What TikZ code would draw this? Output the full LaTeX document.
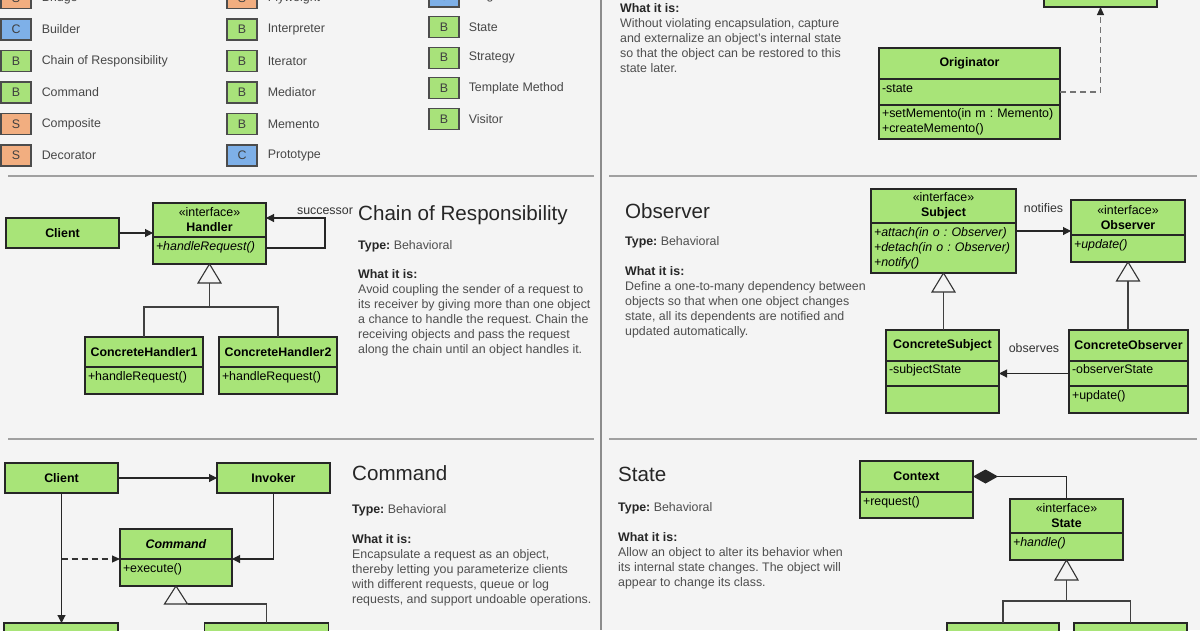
\documentclass[tikz,border=0pt]{standalone}
\usepackage{fontspec}
\setmainfont{Liberation Sans}
\usetikzlibrary{arrows.meta,positioning,shapes}
\definecolor{bgcol}{RGB}{244,244,244}
\definecolor{umlgreen}{RGB}{168,228,120}
\definecolor{patgreen}{RGB}{168,226,122}
\definecolor{patorange}{RGB}{242,174,128}
\definecolor{patblue}{RGB}{126,176,232}
\definecolor{rulegray}{RGB}{160,160,160}
\definecolor{bodygray}{RGB}{78,78,78}
\definecolor{headgray}{RGB}{38,38,38}
\newcommand{\txtsize}{\fontsize{12.4}{15}\selectfont}
\newcommand{\ttlsize}{\fontsize{20.6}{24}\selectfont}
\frenchspacing

\begin{document}
\begin{tikzpicture}[x=1pt,y=-1pt,>={Triangle[length=8pt,width=8pt]}]

  \tikzstyle{pat}=[rectangle,draw=black!70,line width=1.1pt,minimum width=30pt,
                   minimum height=21pt,inner sep=0pt,font=\txtsize,text=black!75]
  \tikzstyle{patname}=[inner sep=0pt,font=\txtsize,text=black!72,anchor=west]
  \tikzstyle{cls}=[rectangle,draw=black!85,line width=1.3pt,fill=umlgreen,
                   inner sep=0pt,outer sep=0pt,font=\txtsize]
  \tikzstyle{cname}=[cls,align=center,font=\txtsize\bfseries]
  \tikzstyle{cmem}=[cls,align=left,inner xsep=3pt,text height=0pt,text depth=0pt]
  \tikzstyle{cmems}=[cls,align=left,inner xsep=3pt]
  \tikzstyle{assoc}=[->,line width=1.1pt,draw=black!85]
  \tikzstyle{dep}=[-{Triangle[length=8pt,width=7pt,color=black!85]},line width=1.1pt,
                   draw=black!80,dash pattern=on 6pt off 4pt]
  \tikzstyle{comp}=[{Diamond[length=25pt,width=14pt]}-,line width=1.1pt,draw=black!85]
  \tikzstyle{gen}=[line width=1.1pt,draw=black!80,fill=bgcol]
  \tikzstyle{tree}=[line width=1.1pt,draw=black!75]
  \tikzstyle{sep}=[line width=2pt,draw=rulegray]
  \tikzstyle{ttl}=[inner sep=0pt,anchor=base west,font=\ttlsize,text=headgray]
  \tikzstyle{tline}=[inner sep=0pt,anchor=base west,font=\txtsize,text=bodygray]
  \tikzstyle{desc}=[inner sep=0pt,anchor=north west,align=left,font=\txtsize,text=bodygray]
  \tikzstyle{lbl}=[inner sep=0pt,font=\txtsize,text=black!80]

  \clip (0,0) rectangle (1200,630);
  \fill [bgcol] (0,0) rectangle (1200,630);

  % panel rules
  \draw [sep,line width=1.5pt,draw=black!45] (601,0) -- (601,630);
  \draw [sep] (8,176) -- (594,176);
  \draw [sep] (609,176) -- (1197,176);
  \draw [sep] (8,439) -- (594,439);
  \draw [sep] (609,439) -- (1197,439);

  % pattern legend
  \node [pat,fill=patorange] (brg) at (16,-2)    {S};
  \node [patname,right=10pt of brg] (brg-t) {Bridge};
  \node [pat,fill=patblue]   (bld) at (16,29.5)  {C};
  \node [patname,right=10pt of bld] (bld-t) {Builder};
  \node [pat,fill=patgreen]  (chn) at (16,61)    {B};
  \node [patname,right=10pt of chn] (chn-t) {Chain of Responsibility};
  \node [pat,fill=patgreen]  (cmn) at (16,92.5)  {B};
  \node [patname,right=10pt of cmn] (cmn-t) {Command};
  \node [pat,fill=patorange] (cps) at (16,124)   {S};
  \node [patname,right=10pt of cps] (cps-t) {Composite};
  \node [pat,fill=patorange] (dec) at (16,155.5) {S};
  \node [patname,right=10pt of dec] (dec-t) {Decorator};

  \node [pat,fill=patorange] (fly) at (242,-2)    {S};
  \node [patname,right=10pt of fly] (fly-t) {Flyweight};
  \node [pat,fill=patgreen]  (itp) at (242,29.5)  {B};
  \node [patname,right=10pt of itp] (itp-t) {Interpreter};
  \node [pat,fill=patgreen]  (itr) at (242,61)    {B};
  \node [patname,right=10pt of itr] (itr-t) {Iterator};
  \node [pat,fill=patgreen]  (med) at (242,92.5)  {B};
  \node [patname,right=10pt of med] (med-t) {Mediator};
  \node [pat,fill=patgreen]  (mmt) at (242,124)   {B};
  \node [patname,right=10pt of mmt] (mmt-t) {Memento};
  \node [pat,fill=patblue]   (prt) at (242,155.5) {C};
  \node [patname,right=10pt of prt] (prt-t) {Prototype};

  \node [pat,fill=patblue]   (sgl) at (444,-3.5)  {C};
  \node [patname,right=9pt of sgl] (sgl-t) {Singleton};
  \node [pat,fill=patgreen]  (stt) at (444,27)    {B};
  \node [patname,right=9pt of stt] (stt-t) {State};
  \node [pat,fill=patgreen]  (stg) at (444,57.7)  {B};
  \node [patname,right=9pt of stg] (stg-t) {Strategy};
  \node [pat,fill=patgreen]  (tpl) at (444,88.3)  {B};
  \node [patname,right=9pt of tpl] (tpl-t) {Template Method};
  \node [pat,fill=patgreen]  (vis) at (444,119)   {B};
  \node [patname,right=9pt of vis] (vis-t) {Visitor};

  % Memento
  \node [desc] (mm-tx) at (620,3.6) {\textcolor{headgray}{\textbf{What it is:}}\\
    Without violating encapsulation, capture\\and externalize an object's internal state\\
    so that the object can be restored to this\\state later.};
  \node [cls,minimum width=113pt,minimum height=30pt] (mem) at (1100.5,-8) {};
  \node [cname,minimum width=181pt,minimum height=31pt] (org) at (969.5,63.5) {Originator};
  \node [cmem,below=0pt of org,text width=175pt,minimum height=26pt] (org-at) {-state};
  \node [cmems,below=0pt of org-at,text width=175pt,minimum height=34pt] (org-op)
    {+setMemento(in m : Memento)\\+createMemento()};
  \draw [dep,draw=black!55] (org-at.east) -| (mem.south);

  % Chain of Responsibility
  \node [ttl]   (cr-t)  at (358,220.5) {Chain of Responsibility};
  \node [tline] (cr-ty) at (358,249)   {\textcolor{headgray}{\textbf{Type:}} Behavioral};
  \node [desc]  (cr-tx) at (358,269.6) {\textcolor{headgray}{\textbf{What it is:}}\\
    Avoid coupling the sender of a request to\\its receiver by giving more than one object\\
    a chance to handle the request. Chain the\\receiving objects and pass the request\\
    along the chain until an object handles it.};
  \node [cname,minimum width=113pt,minimum height=30pt] (cr-cl) at (62.5,233) {Client};
  \node [cname,minimum width=113pt,minimum height=34pt] (hdl) at (209.5,220)
    {{\mdseries«interface»}\\Handler};
  \node [cmem,below=0pt of hdl,text width=107pt,minimum height=27pt] (hdl-op) {\textit{+handleRequest()}};
  \draw [assoc] (cr-cl) -- (cr-cl -| hdl.west);
  \draw [assoc] ([yshift=2.5pt]hdl-op.east) -- ++(59,0)
    |- node [lbl,pos=0.5,above=3pt] (succ) {successor} ([yshift=2pt]hdl.east);
  \coordinate (hdl-b) at ([yshift=-19pt]hdl-op.south);
  \draw [gen] (hdl-op.south) -- ([xshift=-11.5pt]hdl-b) -- ([xshift=11.5pt]hdl-b) -- cycle;
  \node [cname,minimum width=118pt,minimum height=30pt] (ch1) at (144,352) {ConcreteHandler1};
  \node [cmem,below=0pt of ch1,text width=112pt,minimum height=27pt] (ch1-op) {+handleRequest()};
  \node [cname,minimum width=118pt,minimum height=30pt] (ch2) at (278,352) {ConcreteHandler2};
  \node [cmem,below=0pt of ch2,text width=112pt,minimum height=27pt] (ch2-op) {+handleRequest()};
  \draw [tree] (hdl-b) -- ++(0,24) -| (ch1.north);
  \draw [tree] (hdl-b) -- ++(0,24) -| (ch2.north);

  % Observer
  \node [ttl]   (ob-t)  at (625,218.5) {Observer};
  \node [tline] (ob-ty) at (625,245.5) {\textcolor{headgray}{\textbf{Type:}} Behavioral};
  \node [desc]  (ob-tx) at (625,266.6) {\textcolor{headgray}{\textbf{What it is:}}\\
    Define a one-to-many dependency between\\objects so that when one object changes\\
    state, all its dependents are notified and\\updated automatically.};
  \node [cname,minimum width=145pt,minimum height=34pt] (sub) at (943.5,206)
    {{\mdseries«interface»}\\Subject};
  \node [cmems,below=0pt of sub,text width=139pt,minimum height=50pt,font=\txtsize\itshape] (sub-op)
    {+attach(in o : Observer)\\+detach(in o : Observer)\\+notify()};
  \node [cname,minimum width=114pt,minimum height=35pt] (obs) at (1128,217.5)
    {{\mdseries«interface»}\\Observer};
  \node [cmem,below=0pt of obs,text width=108pt,minimum height=27pt] (obs-op) {\textit{+update()}};
  \coordinate (ntf-a) at ([yshift=17pt]sub-op.east);
  \draw [assoc] (ntf-a) -- node [lbl,above=18pt] (ntf) {notifies} (ntf-a -| obs.west);
  \node [cname,minimum width=113pt,minimum height=31pt] (csub) at (942.5,345.5) {ConcreteSubject};
  \node [cmem,below=0pt of csub,text width=107pt,minimum height=25pt] (csub-at) {-subjectState};
  \node [cmem,below=0pt of csub-at,text width=107pt,minimum height=27pt] (csub-op) {};
  \node [cname,minimum width=119pt,minimum height=31pt] (cobs) at (1128.5,345.5) {ConcreteObserver};
  \node [cmem,below=0pt of cobs,text width=113pt,minimum height=25pt] (cobs-at) {-observerState};
  \node [cmem,below=0pt of cobs-at,text width=113pt,minimum height=27pt] (cobs-op) {+update()};
  \draw [assoc] (cobs-at) -- node [lbl,above=20pt] (obsv) {observes} (csub-at);
  \coordinate (sub-b) at ([yshift=-19pt]sub-op.south);
  \draw [gen] (sub-op.south) -- ([xshift=-11.5pt]sub-b) -- ([xshift=11.5pt]sub-b) -- cycle;
  \draw [tree] (sub-b) -- (sub-b |- csub.north);
  \coordinate (obs-b) at ([yshift=-19pt]obs-op.south);
  \draw [gen] (obs-op.south) -- ([xshift=-11.5pt]obs-b) -- ([xshift=11.5pt]obs-b) -- cycle;
  \draw [tree] (obs-b) -- (obs-b |- cobs.north);

  % Command
  \node [ttl]   (cm-t)  at (352,480.5) {Command};
  \node [tline] (cm-ty) at (352,513.5) {\textcolor{headgray}{\textbf{Type:}} Behavioral};
  \node [desc]  (cm-tx) at (352,534.6) {\textcolor{headgray}{\textbf{What it is:}}\\
    Encapsulate a request as an object,\\thereby letting you parameterize clients\\
    with different requests, queue or log\\requests, and support undoable operations.};
  \node [cname,minimum width=113pt,minimum height=30pt] (cm-cl) at (61.5,478) {Client};
  \node [cname,minimum width=113pt,minimum height=30pt] (inv) at (273.5,478) {Invoker};
  \node [cname,minimum width=112pt,minimum height=30pt] (cmd) at (176,544) {\itshape Command};
  \node [cmem,below=0pt of cmd,text width=106pt,minimum height=27pt] (cmd-op) {+execute()};
  \node [cls,minimum width=114pt,minimum height=30pt] (rcv) at (61,638) {};
  \node [cls,minimum width=124pt,minimum height=30pt] (ccm) at (266.5,638) {};
  \draw [assoc] (cm-cl) -- (inv);
  \draw [assoc] (inv.south) |- (cmd.south east);
  \draw [assoc] (cm-cl.south) -- (cm-cl.south |- rcv.north);
  \coordinate (cm-d) at (cm-cl.south |- cmd.south west);
  \draw [dep] (cm-d) -- (cmd.south west);
  \coordinate (cmd-b) at ([yshift=-18pt]cmd-op.south);
  \draw [gen] (cmd-op.south) -- ([xshift=-11.5pt]cmd-b) -- ([xshift=11.5pt]cmd-b) -- cycle;
  \draw [tree] ([xshift=11.5pt]cmd-b) -| (ccm.north);

  % State
  \node [ttl]   (st-t)  at (618,481.5) {State};
  \node [tline] (st-ty) at (618,511.5) {\textcolor{headgray}{\textbf{Type:}} Behavioral};
  \node [desc]  (st-tx) at (618,532.6) {\textcolor{headgray}{\textbf{What it is:}}\\
    Allow an object to alter its behavior when\\its internal state changes. The object will\\
    appear to change its class.};
  \node [cname,minimum width=113pt,minimum height=31pt] (ctx) at (916.5,476.5) {Context};
  \node [cmem,below=0pt of ctx,text width=107pt,minimum height=26pt] (ctx-op) {+request()};
  \node [cname,minimum width=113pt,minimum height=34pt] (sta) at (1066.5,516)
    {{\mdseries«interface»}\\State};
  \node [cmem,below=0pt of sta,text width=107pt,minimum height=27pt] (sta-op) {\textit{+handle()}};
  \draw [comp] (ctx.east) -| (sta.north);
  \coordinate (sta-b) at ([yshift=-20pt]sta-op.south);
  \draw [gen] (sta-op.south) -- ([xshift=-11.5pt]sta-b) -- ([xshift=11.5pt]sta-b) -- cycle;
  \node [cls,minimum width=112pt,minimum height=30pt] (cs1) at (1003,638) {};
  \node [cls,minimum width=113pt,minimum height=30pt] (cs2) at (1130.5,638) {};
  \draw [tree] (sta-b) -- ++(0,21) -| (cs1.north);
  \draw [tree] (sta-b) -- ++(0,21) -| (cs2.north);
\end{tikzpicture}
\end{document}
